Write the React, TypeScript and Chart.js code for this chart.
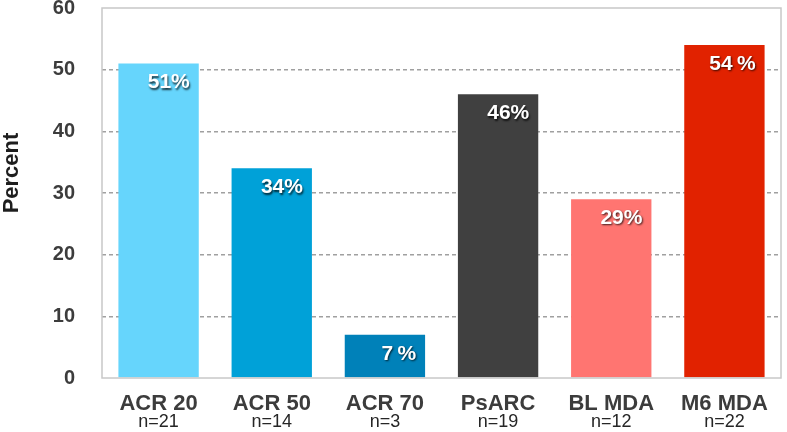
import React, { useEffect, useRef } from "react";
import { Chart, registerables } from "chart.js";
Chart.register(...registerables);

const categories = ["ACR 20", "ACR 50", "ACR 70", "PsARC", "BL MDA", "M6 MDA"];
const sampleSizes = ["n=21", "n=14", "n=3", "n=19", "n=12", "n=22"];
const values = [51, 34, 7, 46, 29, 54];
const valueLabels = ["51%", "34%", "7\u2009%", "46%", "29%", "54\u2009%"];
const barColors = ["#66D5FC", "#00A1D8", "#0081B9", "#404040", "#FF7571", "#E12200"];
const yTitle = "Percent";
const yMin = 0;
const yMax = 60;
const yStep = 10;

const FONT = "'Liberation Sans', Arial, sans-serif";

const overlayPlugin = {
  id: "overlay",
  afterDatasetsDraw(chart: any) {
    const ctx = chart.ctx;
    const area = chart.chartArea;
    // frame
    ctx.save();
    ctx.strokeStyle = "#C8C8C8";
    ctx.lineWidth = 1.5;
    ctx.strokeRect(area.left, area.top, area.right - area.left, area.bottom - area.top);
    ctx.restore();

    // value labels
    const meta = chart.getDatasetMeta(0);
    ctx.save();
    ctx.font = `bold 21px ${FONT}`;
    ctx.textAlign = "right";
    ctx.textBaseline = "middle";
    ctx.fillStyle = "#FFFFFF";
    ctx.shadowColor = "rgba(0,0,0,0.75)";
    ctx.shadowOffsetX = 1;
    ctx.shadowOffsetY = 1.5;
    ctx.shadowBlur = 2;
    meta.data.forEach((bar: any, i: number) => {
      const right = bar.x + bar.width / 2 - 9;
      ctx.fillText(valueLabels[i], right, bar.y + 19);
    });
    ctx.restore();

    // sample size line under category labels
    const xs = chart.scales.x;
    ctx.save();
    ctx.font = `18px ${FONT}`;
    ctx.textAlign = "center";
    ctx.textBaseline = "middle";
    ctx.fillStyle = "#262626";
    sampleSizes.forEach((s, i) => {
      ctx.fillText(s, xs.getPixelForValue(i), 422);
    });
    ctx.restore();

    // y axis title
    ctx.save();
    ctx.font = `bold 22px ${FONT}`;
    ctx.textAlign = "center";
    ctx.textBaseline = "middle";
    ctx.fillStyle = "#1E1E1E";
    ctx.translate(12, 173);
    ctx.rotate(-Math.PI / 2);
    ctx.fillText(yTitle, 0, 0);
    ctx.restore();
  },
};

export default function App() {
  const canvasRef = useRef<HTMLCanvasElement | null>(null);

  useEffect(() => {
    if (!canvasRef.current) return;
    const chart = new Chart(canvasRef.current, {
      type: "bar",
      data: {
        labels: categories,
        datasets: [
          {
            data: values,
            backgroundColor: barColors,
            borderWidth: 0,
            categoryPercentage: 0.71,
            barPercentage: 1,
          },
        ],
      },
      options: {
        responsive: false,
        animation: false,
        devicePixelRatio: 1,
        layout: { padding: { top: 8, right: 6, left: 0, bottom: 0 } },
        plugins: {
          legend: { display: false },
          tooltip: { enabled: false },
        },
        scales: {
          x: {
            grid: { display: false },
            border: { display: false },
            ticks: {
              color: "#3C3C3C",
              font: { family: FONT, size: 22, weight: "bold" },
              padding: 5,
              maxRotation: 0,
              autoSkip: false,
            },
            afterFit(scale: any) {
              scale.height = 54;
              scale.paddingLeft = 0;
              scale.paddingRight = 0;
            },
          },
          y: {
            min: yMin,
            max: yMax,
            ticks: {
              stepSize: yStep,
              color: "#3C3C3C",
              font: { family: FONT, size: 20, weight: "bold" },
              padding: 27,
            },
            grid: {
              drawTicks: false,
              lineWidth: 1.5,
              color: (c: any) =>
                c.tick && (c.tick.value === yMin || c.tick.value === yMax) ? "rgba(0,0,0,0)" : "#A0A0A0",
            },
            border: { display: false, dash: [4, 3] },
            afterFit(scale: any) {
              scale.width = 102;
              scale.paddingTop = 0;
              scale.paddingBottom = 0;
            },
          },
        },
      },
      plugins: [overlayPlugin],
    });
    return () => chart.destroy();
  }, []);

  return (
    <div style={{ position: "absolute", left: 0, top: 0, width: 787, height: 432, background: "#FFFFFF" }}>
      <canvas ref={canvasRef} width={787} height={432} style={{ width: 787, height: 432 }} />
    </div>
  );
}
